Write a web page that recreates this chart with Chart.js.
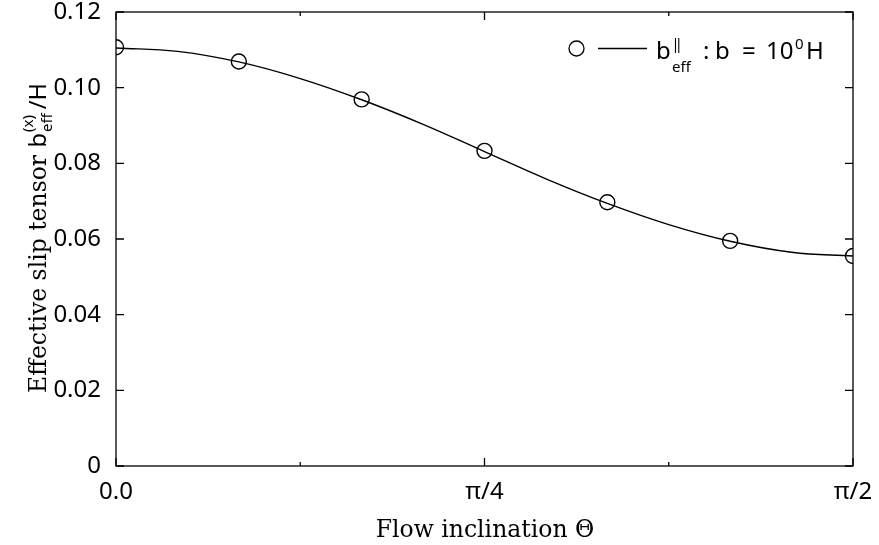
<!DOCTYPE html>
<html><head><meta charset="utf-8">
<script src="https://cdn.jsdelivr.net/npm/chart.js@4.4.0/dist/chart.umd.min.js"></script>
<style>html,body{margin:0;padding:0;background:#fff}#wrap{width:879px;height:545px}</style>
</head><body><div id="wrap"><canvas id="c" width="879" height="545"></canvas></div>
<script>
// Data
const PI = Math.PI;
const thetaPoints = [0, PI/12, 2*PI/12, 3*PI/12, 4*PI/12, 5*PI/12, 6*PI/12];
const slipPoints  = [0.1107, 0.1069, 0.0969, 0.0833, 0.0697, 0.0595, 0.0555];
const thetaCurve  = [0, PI/24, 2*PI/24, 3*PI/24, 4*PI/24, 5*PI/24, 6*PI/24, 7*PI/24, 8*PI/24, 9*PI/24, 10*PI/24, 11*PI/24, 12*PI/24];
const slipCurve   = [0.1105, 0.1096, 0.1068, 0.1024, 0.0968, 0.0903, 0.0831, 0.0759, 0.0694, 0.0638, 0.0594, 0.0565, 0.0555];
const xTickValues = [0, PI/8, PI/4, 3*PI/8, PI/2];
const xTickLabels = ['0.0', '', 'π/4', '', 'π/2'];
const xTickMajor  = [true, false, true, false, true];
const yTickValues = [0, 0.02, 0.04, 0.06, 0.08, 0.10, 0.12];
const yTickLabels = ['0', '0.02', '0.04', '0.06', '0.08', '0.10', '0.12'];
const xTitle = 'Flow inclination Θ';

const SANS = '"Noto Sans", sans-serif';
const SERIF = '"DejaVu Serif", serif';

const framePlugin = {
  id: 'frame',
  afterDraw(chart) {
    const ctx = chart.ctx, a = chart.chartArea;
    const xs = chart.scales.x, ys = chart.scales.y;
    ctx.save();
    ctx.strokeStyle = '#000'; ctx.lineWidth = 1.3;
    ctx.strokeRect(a.left, a.top, a.right - a.left, a.bottom - a.top);
    ctx.beginPath();
    xTickValues.forEach((v, i) => {
      const px = xs.getPixelForValue(v); const L = xTickMajor[i] ? 8 : 4;
      ctx.moveTo(px, a.bottom); ctx.lineTo(px, a.bottom - L);
      ctx.moveTo(px, a.top); ctx.lineTo(px, a.top + L);
    });
    yTickValues.forEach(v => {
      const py = ys.getPixelForValue(v);
      ctx.moveTo(a.left, py); ctx.lineTo(a.left + 8, py);
      ctx.moveTo(a.right, py); ctx.lineTo(a.right - 8, py);
    });
    ctx.stroke();

    // x title
    ctx.fillStyle = '#000';
    ctx.font = '23.5px ' + SERIF;
    ctx.textAlign = 'center'; ctx.textBaseline = 'alphabetic';
    ctx.fillText(xTitle, 485, 537);

    // y title (rotated) with sub/superscripts
    ctx.save();
    ctx.translate(46, 238);
    ctx.rotate(-PI / 2);
    ctx.textAlign = 'left';
    const big = '23.5px ', small = '15px ';
    const p1 = 'Effective slip tensor ';
    ctx.font = big + SERIF; const w1 = ctx.measureText(p1).width;
    ctx.font = big + SANS; const wb = ctx.measureText('b').width;
    ctx.font = small + SANS; const ws = Math.max(ctx.measureText('eff').width, ctx.measureText('(x)').width);
    ctx.font = big + SANS; const wh = ctx.measureText('/H').width;
    const total = w1 + wb + 1 + ws + 4 + wh;
    let x0 = -total / 2;
    ctx.font = big + SERIF; ctx.fillText(p1, x0, 0); x0 += w1;
    ctx.font = big + SANS; ctx.fillText('b', x0, 0); x0 += wb + 1;
    ctx.font = small + SANS; ctx.fillText('eff', x0, 6); ctx.fillText('(x)', x0, -13); x0 += ws + 4;
    ctx.font = big + SANS; ctx.fillText('/H', x0, 0);
    ctx.restore();

    // legend
    const ly = 48.5;
    ctx.beginPath(); ctx.arc(576.5, ly, 7.5, 0, 2 * PI); ctx.stroke();
    ctx.beginPath(); ctx.moveTo(598, ly); ctx.lineTo(647, ly); ctx.stroke();
    const base = 59;
    ctx.textAlign = 'left';
    const L = '24px ', S = '15px ';
    ctx.font = L + SANS; ctx.fillText('b', 656, base);
    ctx.font = S + SANS; ctx.fillText('eff', 672, base + 13); ctx.fillText('‖', 673, base - 10);
    ctx.font = L + SANS;
    ctx.fillText(':', 703, base);
    ctx.fillText('b', 715, base);
    ctx.fillText('=', 742, base);
    ctx.fillText('10', 766, base);
    ctx.font = S + SANS; ctx.fillText('0', 795, base - 10);
    ctx.font = L + SANS; ctx.fillText('H', 806, base);
    ctx.restore();
  }
};

new Chart(document.getElementById('c'), {
  type: 'scatter',
  data: {
    datasets: [
      {
        label: 'curve', type: 'line',
        data: thetaCurve.map((t, i) => ({x: t, y: slipCurve[i]})),
        borderColor: '#000', borderWidth: 1.4, pointRadius: 0, tension: 0.4, fill: false
      },
      {
        label: 'points',
        data: thetaPoints.map((t, i) => ({x: t, y: slipPoints[i]})),
        borderColor: '#000', backgroundColor: 'rgba(0,0,0,0)', borderWidth: 1.4,
        pointRadius: 7.5, pointStyle: 'circle', showLine: false
      }
    ]
  },
  options: {
    responsive: false, animation: false,
    layout: { padding: { left: 0, right: 26, top: 12, bottom: 0 } },
    plugins: { legend: { display: false }, tooltip: { enabled: false } },
    scales: {
      x: {
        type: 'linear', min: 0, max: PI / 2,
        grid: { display: false, drawTicks: false }, border: { display: false },
        afterBuildTicks: s => { s.ticks = xTickValues.map(v => ({value: v})); },
        afterFit: s => { s.height = 79; s.paddingLeft = 0; s.paddingRight = 0; },
        ticks: { autoSkip: false, maxRotation: 0, padding: 12, color: '#000',
          font: { family: SANS, size: 24 },
          callback: (v, i) => xTickLabels[i] }
      },
      y: {
        type: 'linear', min: 0, max: 0.12,
        grid: { display: false, drawTicks: false }, border: { display: false },
        afterBuildTicks: s => { s.ticks = yTickValues.map(v => ({value: v})); },
        afterFit: s => { s.width = 116; s.paddingTop = 0; s.paddingBottom = 0; },
        ticks: { autoSkip: false, padding: 15, color: '#000',
          font: { family: SANS, size: 24 },
          callback: (v, i) => yTickLabels[i] }
      }
    }
  },
  plugins: [framePlugin]
});
</script></body></html>
